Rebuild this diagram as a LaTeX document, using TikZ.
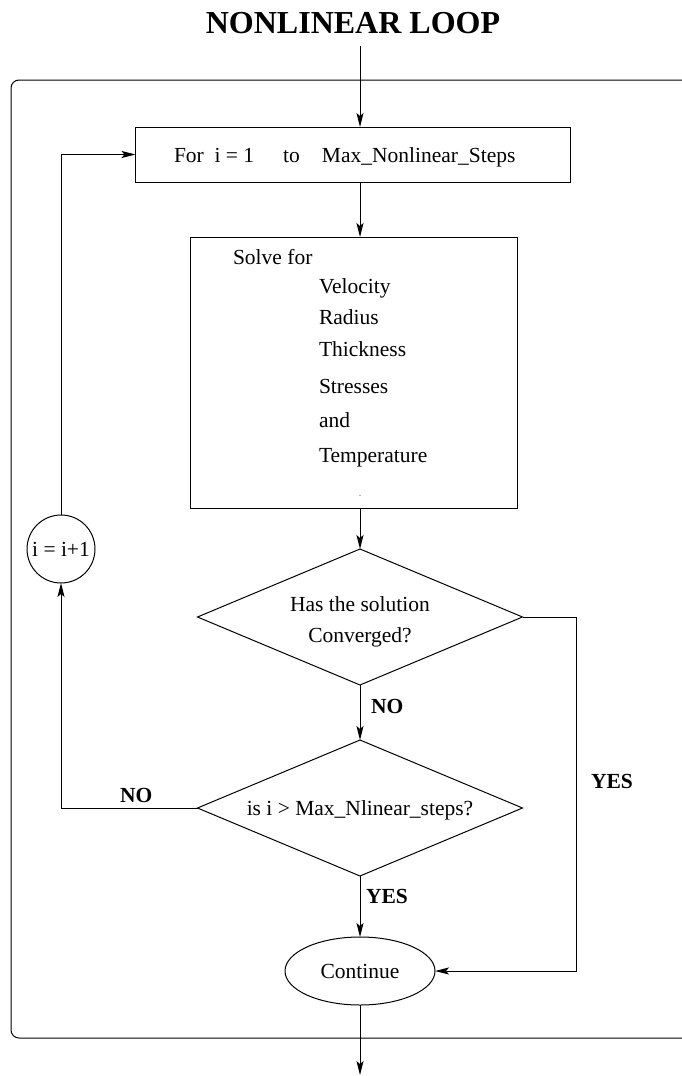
\documentclass[tikz,border=0pt]{standalone}
\usepackage{fontspec}
\setmainfont{Liberation Serif}
\usetikzlibrary{shapes.geometric,arrows.meta}

\begin{document}
\begin{tikzpicture}[x=1pt,y=-1pt,
  every node/.style={font=\fontsize{21.5}{31}\selectfont, inner sep=0pt, outer sep=0pt},
  thinline/.style={line width=1pt},
  flow/.style={thinline, -{Stealth[length=14pt,width=7pt,inset=3pt]}},
  procbox/.style={draw, thinline, rectangle},
  decision/.style={draw, thinline, diamond, minimum width=325pt, minimum height=136pt},
  answer/.style={font=\fontsize{21.5}{26}\selectfont\bfseries, anchor=base west},
  item/.style={anchor=base west}
]
\useasboundingbox (0,0) rectangle (682,1076);
\clip (0,0) rectangle (682,1076);

% heading
\node[font=\fontsize{32}{38}\selectfont\bfseries, anchor=base] (title) at (353,33) {NONLINEAR LOOP};

% enclosing frame of the loop (runs off the right edge)
\draw[thinline, rounded corners=8pt] (11,80) rectangle (730,1038);

% loop header
\coordinate (entry) at (360,46);
\node[procbox, minimum width=435pt, minimum height=55pt] (forbox) at (353,154.5) {};
\node[item] (fortext) at (174,162) {For\ \ i = 1\hspace{29pt}to\hspace{22pt}Max\_Nonlinear\_Steps};

% solver block
\node[procbox, minimum width=327pt, minimum height=271pt] (solvebox) at (353.5,372.5) {};
\node[item] (solvefor) at (233,264) {Solve for};
\node[item] (velocity) at (319,293) {Velocity};
\node[item] (radius) at (319,324) {Radius};
\node[item] (thickness) at (319,356) {Thickness};
\node[item] (stresses) at (319,393) {Stresses};
\node[item] (and) at (319,427) {and};
\node[item] (temperature) at (319,462) {Temperature};
\node[anchor=base, font=\fontsize{8}{8}\selectfont] (dot) at (360,496) {.};

% convergence test
\node[decision] (dec1) at (360,617) {};
\node[align=center] (dec1text) at (360,621.5) {Has the solution\\Converged?};

% iteration limit test
\node[decision] (dec2) at (360,808) {};
\node (dec2text) at (360,810) {is i > Max\_Nlinear\_steps?};

% counter increment
\node[draw, thinline, circle, minimum size=68pt] (incr) at (61,549) {i = i+1};

% exit
\node[draw, thinline, ellipse, minimum width=150pt, minimum height=68pt] (cont) at (360,971) {Continue};
\coordinate (exit) at (360,1075);

% branch labels
\node[answer] (no1) at (371,713) {NO};
\node[answer] (no2) at (120,802) {NO};
\node[answer] (yes1) at (591,788) {YES};
\node[answer] (yes2) at (366,903) {YES};

% connectors
\draw[flow] (entry) -- (entry |- forbox.north);
\draw[flow] (forbox.south -| entry) -- (entry |- solvebox.north);
\draw[flow] (solvebox.south -| entry) -- (dec1.north);
\draw[flow] (dec1.south) -- (dec2.north);
\draw[flow] (dec2.south) -- (cont.north);
\draw[flow] (dec1.east) -- ++(54,0) |- (cont.east);
\draw[flow] (dec2.west) -| (incr.south);
\draw[flow] (incr.north) |- (forbox.west);
\draw[flow] (cont.south) -- (exit);
\end{tikzpicture}
\end{document}
